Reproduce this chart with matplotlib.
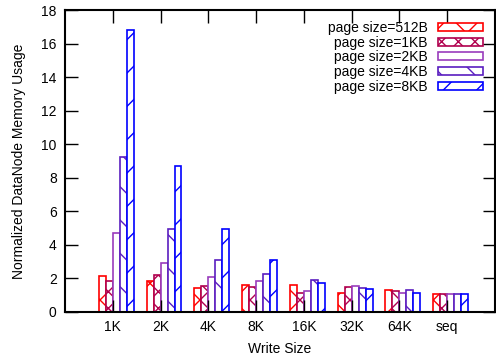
import numpy as np
import matplotlib
matplotlib.use("Agg")
import matplotlib.pyplot as plt

plt.rcParams['font.family'] = ['Liberation Sans', 'DejaVu Sans']
plt.rcParams['font.size'] = 10
plt.rcParams['hatch.linewidth'] = 1.0

# write sizes on the x axis
write_sizes = ['1K', '2K', '4K', '8K', '16K', '32K', '64K', 'seq']

# normalized DataNode memory usage per page size
mem_512B = [2.12, 1.86, 1.39, 1.62, 1.58, 1.09, 1.30, 1.07]
mem_1KB = [1.82, 2.16, 1.52, 1.48, 1.09, 1.46, 1.21, 1.03]
mem_2KB = [4.70, 2.93, 2.06, 1.82, 1.23, 1.52, 1.13, 1.03]
mem_4KB = [9.20, 4.96, 3.07, 2.22, 1.88, 1.40, 1.29, 1.03]
mem_8KB = [16.80, 8.67, 4.96, 3.07, 1.74, 1.33, 1.09, 1.03]

labels = ['page size=512B', 'page size=1KB', 'page size=2KB',
          'page size=4KB', 'page size=8KB']
colors = ['#ff0000', '#b0004e', '#9a3cbc', '#5a1ec0', '#0000ff']
hatches = ['x', 'xx', '', '\\', '/']
series = [mem_512B, mem_1KB, mem_2KB, mem_4KB, mem_8KB]

fig = plt.figure(figsize=(4.96, 3.58), dpi=100)
ax = fig.add_axes([65 / 496, 1 - 311.7 / 358, 430 / 496, 301.7 / 358])

x = np.arange(1, len(write_sizes) + 1)
w = 0.146
for j, vals in enumerate(series):
    ax.bar(x + (j - 2) * w, vals, width=w, align='edge',
           facecolor='white', edgecolor=colors[j], hatch=hatches[j],
           linewidth=1.2, label=labels[j])

ax.set_xlim(0, 9)
ax.set_ylim(0, 18)
ax.set_xticks(x)
ax.set_xticklabels(write_sizes)
ax.set_yticks(np.arange(0, 19, 2))
ax.tick_params(direction='in', length=9, width=1, top=True, right=True,
               labelsize=10, pad=6)
for s in ax.spines.values():
    s.set_linewidth(1.5)

ax.set_xlabel('Write Size', labelpad=6)
ax.set_ylabel('Normalized DataNode Memory Usage', labelpad=11)

ax.legend(loc='upper right', bbox_to_anchor=(1 - 12.3 / 430, 1 - 11 / 302),
          frameon=False, markerfirst=False, borderaxespad=0, borderpad=0,
          handlelength=3.24, handleheight=0.5, handletextpad=0.72,
          labelspacing=0.05, fontsize=10)

fig.savefig('out.png', dpi=100)
